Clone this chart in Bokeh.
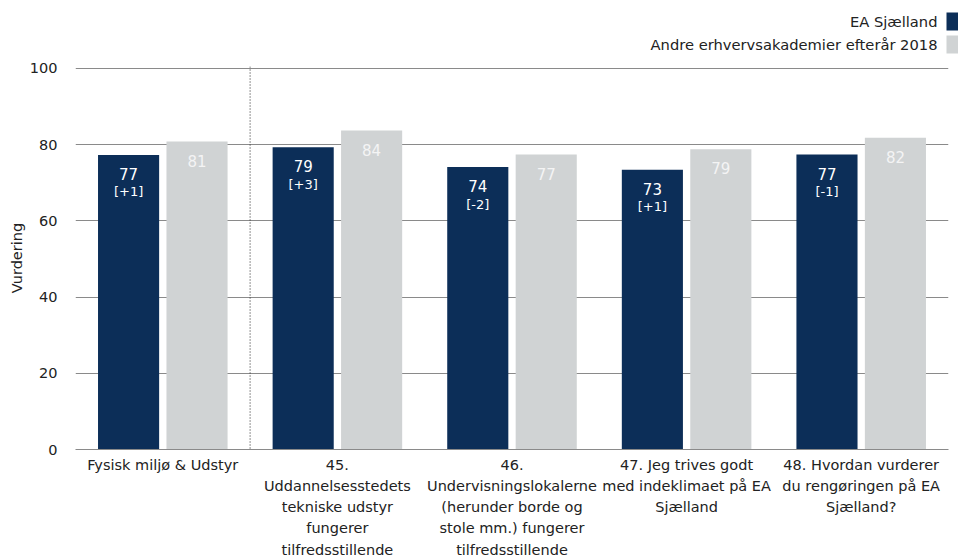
from bokeh.plotting import figure
from bokeh.layouts import column
from bokeh.models import (FactorRange, Range1d, ColumnDataSource, Span, FixedTicker)
from bokeh.transform import dodge
from bokeh.core.properties import value
from bokeh.embed import file_html
from bokeh.resources import INLINE

# ---- data ----
categories = [
    "Fysisk miljø & Udstyr",
    "45.\nUddannelsesstedets\ntekniske udstyr\nfungerer\ntilfredsstillende",
    "46.\nUndervisningslokalerne\n(herunder borde og\nstole mm.) fungerer\ntilfredsstillende",
    "47. Jeg trives godt\nmed indeklimaet på EA\nSjælland",
    "48. Hvordan vurderer\ndu rengøringen på EA\nSjælland?",
]
ea_values = [77.3, 79.3, 74.1, 73.4, 77.4]
ea_labels = ["77", "79", "74", "73", "77"]
ea_change = ["[+1]", "[+3]", "[-2]", "[+1]", "[-1]"]
other_values = [80.8, 83.7, 77.4, 78.8, 81.8]
other_labels = ["81", "84", "77", "79", "82"]
series_names = ["EA Sjælland", "Andre erhvervsakademier efterår 2018"]
y_ticks = [0, 20, 40, 60, 80, 100]

DARK = "#0c2e58"
LIGHT = "#d0d3d4"
FONT = "DejaVu Sans"
TXT = "#222222"

# ---- legend strip ----
leg = figure(width=958, height=60, x_range=Range1d(0, 958), y_range=Range1d(60, 0),
             output_backend="svg", toolbar_location=None,
             min_border_left=0, min_border_right=0, min_border_top=0, min_border_bottom=0,
             x_axis_location=None, y_axis_location=None)
leg.frame_align = False
leg.grid.grid_line_color = None
leg.outline_line_color = None
leg_src = ColumnDataSource(dict(name=series_names, color=[DARK, LIGHT],
                                ty=[21, 44], top=[12, 35], bot=[30, 53]))
leg.text(x=937, y="ty", text="name", source=leg_src, text_align="right",
         text_baseline="middle", text_font=value(FONT), text_font_size="14.7px",
         text_color=TXT)
leg.quad(left=946, right=966, top="top", bottom="bot", source=leg_src,
         fill_color="color", line_color=None)

# ---- main chart ----
src = ColumnDataSource(dict(cat=categories, ea=ea_values, eal=ea_labels, eac=ea_change,
                            oth=other_values, othl=other_labels))

p = figure(width=958, height=500, x_range=FactorRange(*categories, range_padding=0),
           y_range=Range1d(0, 100.5), output_backend="svg", toolbar_location=None,
           min_border_left=75, min_border_right=10, min_border_top=6, min_border_bottom=110)
p.frame_align = False
p.outline_line_color = None

p.vbar(x=dodge("cat", -0.196, range=p.x_range), top="ea", width=0.35, source=src,
       fill_color=DARK, line_color=None)
p.vbar(x=dodge("cat", 0.196, range=p.x_range), top="oth", width=0.35, source=src,
       fill_color=LIGHT, line_color=None)

p.text(x=dodge("cat", -0.196, range=p.x_range), y="ea", text="eal", source=src,
       y_offset=19, text_align="center", text_baseline="middle", text_color="white",
       text_font=value(FONT), text_font_size="15px")
p.text(x=dodge("cat", -0.196, range=p.x_range), y="ea", text="eac", source=src,
       y_offset=37, text_align="center", text_baseline="middle", text_color="white",
       text_font=value(FONT), text_font_size="13px")
p.text(x=dodge("cat", 0.196, range=p.x_range), y="oth", text="othl", source=src,
       y_offset=19, text_align="center", text_baseline="middle", text_color="#f4f4f4",
       text_font=value(FONT), text_font_size="15px")

p.xgrid.grid_line_color = None
p.ygrid.grid_line_color = "#8a8a8a"
p.yaxis.ticker = FixedTicker(ticks=y_ticks)

p.yaxis.axis_line_color = None
p.yaxis.major_tick_line_color = None
p.yaxis.minor_tick_line_color = None
p.yaxis.major_label_standoff = 12
p.yaxis.major_label_text_font = FONT
p.yaxis.major_label_text_font_size = "14.5px"
p.yaxis.major_label_text_color = TXT
p.yaxis.axis_label = "Vurdering"
p.yaxis.axis_label_text_font = FONT
p.yaxis.axis_label_text_font_size = "14.5px"
p.yaxis.axis_label_text_font_style = "normal"
p.yaxis.axis_label_text_color = TXT
p.yaxis.axis_label_standoff = 2

p.xaxis.axis_line_color = "#8a8a8a"
p.xaxis.major_tick_line_color = None
p.xaxis.minor_tick_line_color = None
p.xaxis.major_label_standoff = 1
p.xaxis.major_label_text_font = FONT
p.xaxis.major_label_text_font_size = "14.5px"
p.xaxis.major_label_text_color = TXT
p.xaxis.major_label_text_line_height = 1.33
p.xaxis.major_label_orientation = "horizontal"

p.add_layout(Span(location=1, dimension="height", line_color=TXT,
                  line_dash="1 2", line_width=1))

open("out.html", "w").write(file_html(column(leg, p, spacing=0), INLINE))
